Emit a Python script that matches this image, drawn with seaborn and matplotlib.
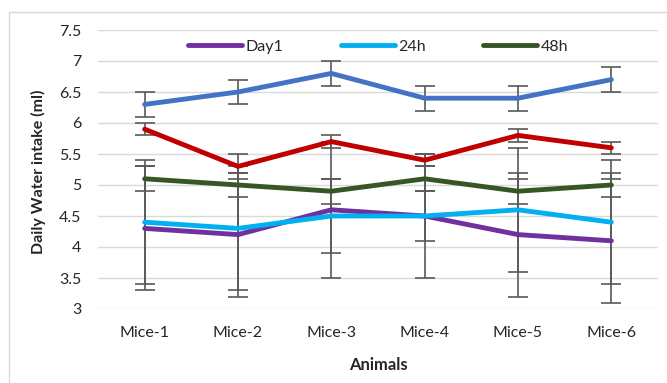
import numpy as np
import pandas as pd
import matplotlib
matplotlib.use("Agg")
import matplotlib.pyplot as plt
import seaborn as sns

# data
animals = ["Mice-1", "Mice-2", "Mice-3", "Mice-4", "Mice-5", "Mice-6"]

day1 = [4.3, 4.2, 4.6, 4.5, 4.2, 4.1]
day1_err = [1.0, 1.0, 1.1, 1.0, 1.0, 1.0]

h24 = [4.4, 4.3, 4.5, 4.5, 4.6, 4.4]
h24_err = [1.0, 1.0, 0.6, 0.4, 1.0, 1.0]

h48 = [5.1, 5.0, 4.9, 5.1, 4.9, 5.0]
h48_err = [0.2, 0.2, 0.2, 0.2, 0.2, 0.2]

red_series = [5.9, 5.3, 5.7, 5.4, 5.8, 5.6]
red_err = [0.1, 0.2, 0.1, 0.1, 0.1, 0.1]

blue_series = [6.3, 6.5, 6.8, 6.4, 6.4, 6.7]
blue_err = [0.2, 0.2, 0.2, 0.2, 0.2, 0.2]

series = [
    ("Day1", day1, day1_err, "#7030A0"),
    ("24h", h24, h24_err, "#00B0F0"),
    ("48h", h48, h48_err, "#375623"),
    ("_red", red_series, red_err, "#C00000"),
    ("_blue", blue_series, blue_err, "#4472C4"),
]

sns.set_style("white")
plt.rcParams['font.family'] = ['Lato', 'DejaVu Sans']

fig = plt.figure(figsize=(6.67, 3.83), dpi=100)
ax = fig.add_axes([98 / 667, 1 - 309 / 383, 560 / 667, 279 / 383])

x = np.arange(len(animals))
for name, vals, err, color in series:
    ax.errorbar(x, vals, yerr=err, fmt="none", ecolor="#595959",
                elinewidth=1.2, capsize=7, capthick=1.2, zorder=2)
for name, vals, err, color in series:
    df = pd.DataFrame({"Animals": animals, "value": vals})
    sns.lineplot(data=df, x="Animals", y="value", ax=ax, color=color,
                 linewidth=3.5, label=name, zorder=3, sort=False)

ax.set_xlim(-0.5, 5.5)
ax.set_ylim(3, 7.5)
ax.set_yticks(np.arange(3, 7.51, 0.5))
ax.set_yticklabels(["3", "3.5", "4", "4.5", "5", "5.5", "6", "6.5", "7", "7.5"])
ax.yaxis.grid(True, color="#D9D9D9", linewidth=1)
ax.xaxis.grid(False)
for s in ax.spines.values():
    s.set_visible(False)
ax.tick_params(axis="both", length=0, labelsize=11.5, colors="#262626")
ax.tick_params(axis="y", pad=12)
ax.tick_params(axis="x", pad=12)

ax.set_xlabel("")
ax.set_ylabel("")
fig.text(38 / 667, 1 - 172 / 383, "Daily Water intake (ml)", rotation=90,
         ha="center", va="center", fontsize=11.5, fontweight="bold", color="#262626")
fig.text(378 / 667, 1 - 365 / 383, "Animals", ha="center", va="center",
         fontsize=12, fontweight="bold", color="#262626")

h, l = ax.get_legend_handles_labels()
ax.legend(h[:3], l[:3], loc="upper center", bbox_to_anchor=(0.5, 1.0), ncol=3,
          frameon=False, fontsize=11.5, handlelength=3.4, handletextpad=0.2,
          columnspacing=3.6, borderaxespad=0.2)

# chart area border
fig.patches.append(plt.Rectangle((9 / 667, -0.1), 1.2, 1 - 12 / 383 + 0.1,
                                 transform=fig.transFigure, fill=False,
                                 edgecolor="#D9D9D9", linewidth=1))

fig.savefig("out.png", dpi=100)
